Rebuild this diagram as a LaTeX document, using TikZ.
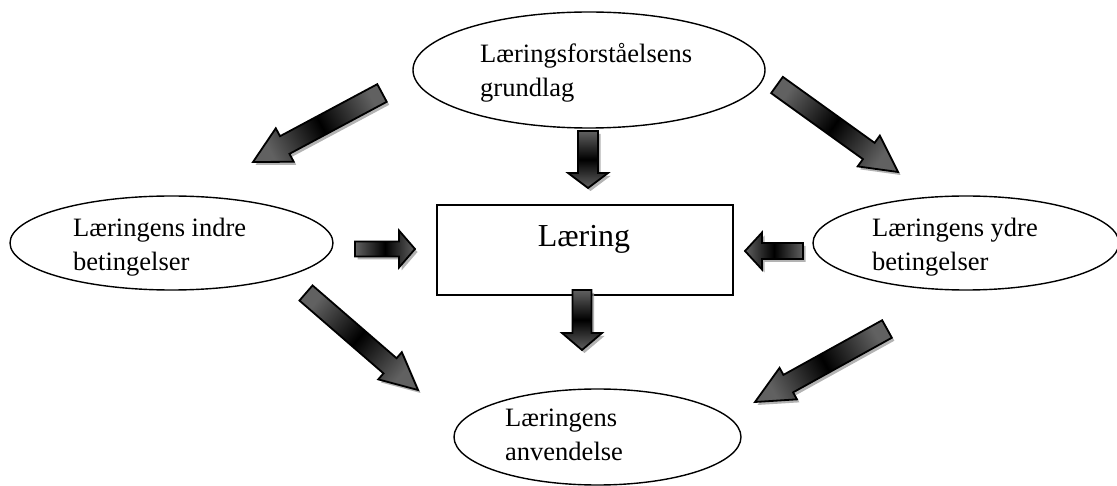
\documentclass[tikz,border=0pt]{standalone}
\usepackage{fontspec}
\setmainfont{Liberation Serif}
\usetikzlibrary{calc,shapes.geometric}
\tikzset{
  oval/.style={draw, ellipse, line width=1.4pt, inner sep=0pt},
  boxnode/.style={draw, rectangle, line width=1.6pt, inner sep=0pt},
  lbl/.style={anchor=base west, inner sep=0pt, font=\fontsize{26.5}{34}\selectfont},
  biglbl/.style={anchor=base, inner sep=0pt, font=\fontsize{32}{38}\selectfont},
  barrow/.style={draw=black, line width=1.8pt, line join=miter, top color=black!62, bottom color=black!62, middle color=black},
  bshadow/.style={fill=black!40, opacity=.75},
}
% #1 id, #2 tail, #3 tip, #4 shaft half width, #5 head half width, #6 head length, #7 shading angle
\newcommand{\blockarr}[7]{%
  \coordinate (#1H) at ($(#3)!#6!(#2)$);
  \coordinate (#1a) at ($(#2)!#4!90:(#3)$);
  \coordinate (#1b) at ($(#1H)!#4!90:(#3)$);
  \coordinate (#1c) at ($(#1H)!#5!90:(#3)$);
  \coordinate (#1d) at ($(#1H)!#5!-90:(#3)$);
  \coordinate (#1e) at ($(#1H)!#4!-90:(#3)$);
  \coordinate (#1f) at ($(#2)!#4!-90:(#3)$);
  \fill[bshadow, transform canvas={shift={(2.5pt,-3pt)}}] (#1a) -- (#1b) -- (#1c) -- (#3) -- (#1d) -- (#1e) -- (#1f) -- cycle;
  \draw[barrow, shading angle=#7] (#1a) -- (#1b) -- (#1c) -- (#3) -- (#1d) -- (#1e) -- (#1f) -- cycle;
}
\begin{document}
\begin{tikzpicture}[x=1pt,y=-1pt]
\useasboundingbox (0,0) rectangle (1117,486);

% shapes
\node[oval, minimum width=352pt, minimum height=116pt] (top) at (589,70) {};
\node[oval, minimum width=323pt, minimum height=94pt] (left) at (171.5,243) {};
\node[oval, minimum width=306pt, minimum height=94pt] (right) at (966,243) {};
\node[oval, minimum width=287pt, minimum height=96pt] (bottom) at (597.5,437) {};
\node[boxnode, minimum width=296pt, minimum height=90pt] (box) at (585,250) {};

% texts
\node[lbl] (topa) at (480,63) {Læringsforståelsens};
\node[lbl] (topb) at (480,97) {grundlag};
\node[lbl] (lefta) at (73,237) {Læringens indre};
\node[lbl] (leftb) at (73,271) {betingelser};
\node[lbl] (righta) at (872,237) {Læringens ydre};
\node[lbl] (rightb) at (872,271) {betingelser};
\node[lbl] (bota) at (505,426) {Læringens};
\node[lbl] (botb) at (505,460) {anvendelse};
\node[biglbl] (boxt) at (584,247) {Læring};

% block arrows
\coordinate (a1t) at (382,93);  \coordinate (a1p) at (253,162);
\coordinate (a2t) at (777,85);  \coordinate (a2p) at (898,172);
\coordinate (a3t) at (588,131); \coordinate (a3p) at (588,188);
\coordinate (a4t) at (355,249); \coordinate (a4p) at (415,249);
\coordinate (a5t) at (803,251); \coordinate (a5p) at (745,251);
\coordinate (a6t) at (582,290); \coordinate (a6p) at (582,350);
\coordinate (a7t) at (306,293); \coordinate (a7p) at (418,390);
\coordinate (a8t) at (887,329); \coordinate (a8p) at (755,402);

\blockarr{a1}{a1t}{a1p}{10pt}{19pt}{36pt}{118}
\blockarr{a2}{a2t}{a2p}{10pt}{19pt}{36pt}{54.3}
\blockarr{a3}{a3t}{a3p}{10pt}{20pt}{15pt}{0}
\blockarr{a4}{a4t}{a4p}{7.5pt}{18.5pt}{16pt}{90}
\blockarr{a5}{a5t}{a5p}{8pt}{18.5pt}{17pt}{90}
\blockarr{a6}{a6t}{a6p}{9.5pt}{20pt}{17pt}{0}
\blockarr{a7}{a7t}{a7p}{10pt}{18pt}{37pt}{49.1}
\blockarr{a8}{a8t}{a8p}{10pt}{18pt}{38pt}{118.9}
\end{tikzpicture}
\end{document}
